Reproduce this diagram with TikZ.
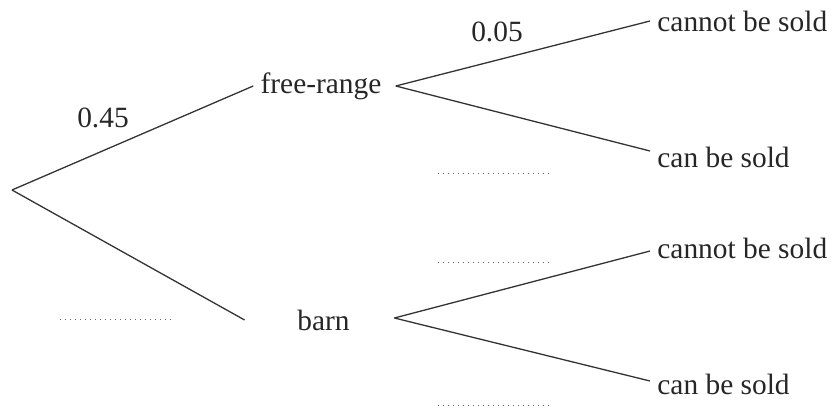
\documentclass[tikz,border=0pt]{standalone}
\usepackage{fontspec}
\setmainfont{Liberation Serif}
\begin{document}
\begin{tikzpicture}[x=0.5pt,y=-0.5pt,
  lbl/.style={font=\fontsize{14.7}{17}\selectfont, text=black!85, inner sep=0pt},
  leaf/.style={lbl, anchor=west},
  branch/.style={draw=black!80, line width=0.65pt},
  blank/.style={draw=black!60, dotted, line width=0.5pt}]
\useasboundingbox (0,0) rectangle (834,412);
% root and level-1 nodes
\coordinate (root) at (12,190);
\node[lbl, inner xsep=3.5pt] (fr) at (321,86) {free-range};
\node[lbl, minimum width=74.5pt, minimum height=12pt] (barn) at (319.5,320) {\hspace*{4pt}barn};
% leaves
\node[leaf] (c1) at (657,21) {cannot be sold};
\node[leaf] (c2) at (657,157) {can be sold};
\node[leaf] (c3) at (657,248) {cannot be sold};
\node[leaf] (c4) at (657,384) {can be sold};
% branches
\draw[branch] (root) -- (fr.west);
\draw[branch] (root) -- (barn.west);
\draw[branch] ([xshift=3.5pt]fr.east) -- ([xshift=-3.5pt,yshift=0pt]c1.west);
\draw[branch] ([xshift=3.5pt]fr.east) -- ([xshift=-3.5pt,yshift=3pt]c2.west);
\draw[branch] ([yshift=1pt]barn.east) -- ([xshift=-3.5pt,yshift=-1.5pt]c3.west);
\draw[branch] ([yshift=1pt]barn.east) -- ([xshift=-3.5pt,yshift=1.5pt]c4.west);
% probabilities
\node[lbl] (p1) at (103,118) {0.45};
\node[lbl] (p2) at (497,32) {0.05};
% blanks
\coordinate (b1a) at (60,319);  \coordinate (b1b) at (172,319);
\coordinate (b2a) at (438,173); \coordinate (b2b) at (549,173);
\coordinate (b3a) at (438,262); \coordinate (b3b) at (549,262);
\coordinate (b4a) at (438,405); \coordinate (b4b) at (549,405);
\draw[blank] (b1a) -- (b1b);
\draw[blank] (b2a) -- (b2b);
\draw[blank] (b3a) -- (b3b);
\draw[blank] (b4a) -- (b4b);
\end{tikzpicture}
\end{document}
